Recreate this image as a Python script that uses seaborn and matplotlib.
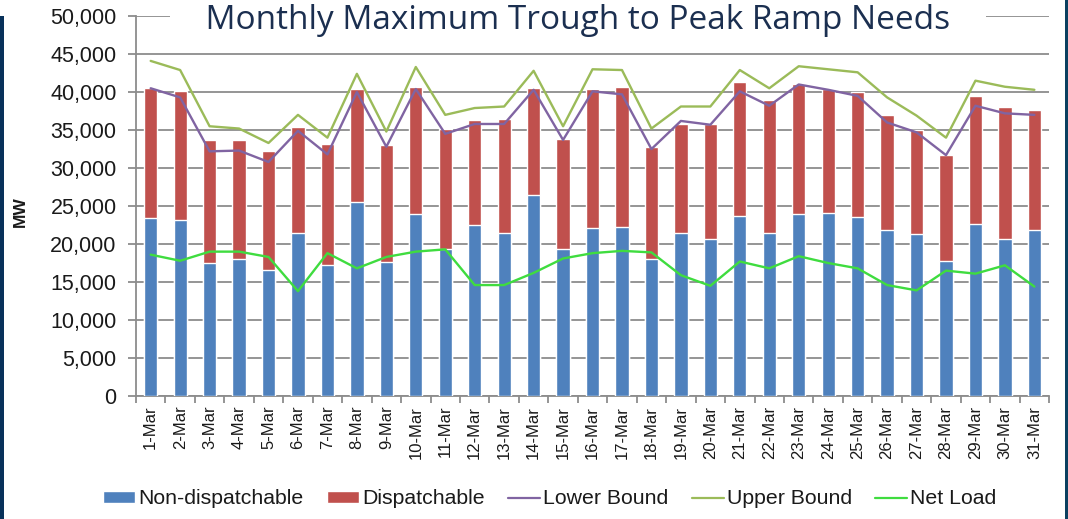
import numpy as np
import pandas as pd
import matplotlib
matplotlib.use('Agg')
import matplotlib.pyplot as plt
import seaborn as sns
from matplotlib.patches import Patch, Rectangle
from matplotlib.lines import Line2D
from matplotlib.ticker import FuncFormatter

# Data (MW)
days = [f"{d}-Mar" for d in range(1, 32)]
non_dispatchable = [23400, 23100, 17500, 18000, 16600, 21400, 17200, 25500, 17700, 24000,
                    19400, 22500, 21500, 26400, 19300, 22100, 22300, 18000, 21400, 20600,
                    23700, 21500, 24000, 24100, 23500, 21900, 21300, 17800, 22600, 20600, 21900]
dispatchable = [17100, 17000, 16200, 15700, 15600, 14000, 15900, 14900, 15300, 16700,
                15800, 13800, 15000, 14100, 14500, 18300, 18400, 14800, 14400, 15200,
                17600, 17500, 17000, 16300, 16500, 15100, 13700, 13900, 16900, 17400, 15700]
lower_bound = [40500, 39300, 32200, 32300, 30800, 34900, 31800, 40000, 32800, 40400,
               34500, 35800, 35800, 40300, 33700, 40100, 39700, 32500, 36200, 35700,
               40100, 38200, 41000, 40300, 39500, 36000, 34700, 31700, 38200, 37200, 37000]
upper_bound = [44100, 42900, 35500, 35200, 33300, 37000, 34000, 42400, 34800, 43300,
               37000, 37900, 38100, 42800, 35500, 43000, 42900, 35200, 38100, 38100,
               42900, 40500, 43400, 43000, 42600, 39300, 36900, 34000, 41500, 40700, 40300]
net_load = [18600, 17800, 19000, 19000, 18300, 13800, 18800, 16800, 18300, 19000,
            19300, 14600, 14600, 16200, 18100, 18800, 19100, 18900, 15900, 14500,
            17700, 16800, 18400, 17500, 16800, 14600, 13900, 16500, 16100, 17200, 14400]

df = pd.DataFrame({
    'day': days,
    'non': non_dispatchable,
    'total': np.array(non_dispatchable) + np.array(dispatchable),
    'lower': lower_bound,
    'upper': upper_bound,
    'net': net_load,
})

C_BLUE = '#4F81BD'
C_RED = '#C0504D'
C_PURPLE = '#8064A2'
C_OLIVE = '#9BBB59'
C_GREEN = '#3FDC3F'
GRID = '#8C8C8C'
TXT = '#1A1A1A'

sns.set_style('white')
plt.rcParams['font.family'] = ['Liberation Sans', 'DejaVu Sans']

fig = plt.figure(figsize=(10.68, 5.19), dpi=100)
ax = fig.add_axes([0.1273, 0.237, 0.855, 0.732])

sns.barplot(data=df, x='day', y='total', color=C_RED, width=0.45,
            saturation=1, ax=ax, zorder=2)
sns.barplot(data=df, x='day', y='non', color=C_BLUE, width=0.45,
            saturation=1, ax=ax, zorder=3)
sns.lineplot(data=df, x='day', y='lower', color=C_PURPLE, lw=1.7, ax=ax, zorder=4, sort=False)
sns.lineplot(data=df, x='day', y='upper', color=C_OLIVE, lw=1.7, ax=ax, zorder=4, sort=False)
sns.lineplot(data=df, x='day', y='net', color=C_GREEN, lw=1.7, ax=ax, zorder=4, sort=False)

ax.set_xlim(-0.5, 30.5)
ax.set_ylim(0, 50000)
ax.set_yticks(range(0, 50001, 5000))
ax.yaxis.set_major_formatter(FuncFormatter(lambda v, p: f"{int(v):,}"))
ax.grid(axis='y', color=GRID, lw=1.3, zorder=0)
ax.set_axisbelow(True)

for s in ['top', 'right']:
    ax.spines[s].set_visible(False)
for s in ['left', 'bottom']:
    ax.spines[s].set_color(GRID)
    ax.spines[s].set_linewidth(1.3)

ax.set_xlabel('')
ax.set_ylabel('')
fig.text(20 / 1068, 1 - 212 / 519, 'MW', rotation=90, fontsize=12.5, fontweight='bold',
         color=TXT, ha='center', va='center')
ax.tick_params(axis='y', length=6, color=GRID, width=1.3, labelsize=15.5, pad=8,
               left=True, labelcolor=TXT)
ax.tick_params(axis='x', which='major', length=0, labelsize=12, pad=7, labelcolor=TXT)
ax.set_xticks(range(31))
ax.set_xticklabels(days, rotation=90)
ax.set_xticks(np.arange(-0.5, 31, 1), minor=True)
ax.tick_params(axis='x', which='minor', length=5, color=GRID, width=1.3, bottom=True)

fig.text(578 / 1068, 1 - 29 / 519, '    Monthly Maximum Trough to Peak Ramp Needs    ',
         fontsize=24, color='#1B2F50', family=['Open Sans', 'DejaVu Sans'],
         ha='center', va='baseline', zorder=5,
         bbox=dict(facecolor='white', edgecolor='none', pad=1))

handles = [
    Patch(facecolor=C_BLUE, label='Non-dispatchable'),
    Patch(facecolor=C_RED, label='Dispatchable'),
    Line2D([], [], color=C_PURPLE, lw=1.6, label='Lower Bound'),
    Line2D([], [], color=C_OLIVE, lw=1.6, label='Upper Bound'),
    Line2D([], [], color=C_GREEN, lw=1.6, label='Net Load'),
]
fig.legend(handles=handles, loc='center', bbox_to_anchor=(550 / 1068, 1 - 499 / 519), ncol=5,
           frameon=False, fontsize=15.3, handlelength=1.5, handleheight=0.5,
           handletextpad=0.15, columnspacing=1.1, labelcolor=TXT, borderpad=0)

# dark slide edges
fig.patches.append(Rectangle((0, 0), 4 / 1068, 1 - 16 / 519, transform=fig.transFigure,
                             facecolor='#08315A', edgecolor='none'))
fig.patches.append(Rectangle((1065 / 1068, 0), 3 / 1068, 1, transform=fig.transFigure,
                             facecolor='#0B4060', edgecolor='none'))

fig.savefig('out.png', dpi=100, facecolor='white')
